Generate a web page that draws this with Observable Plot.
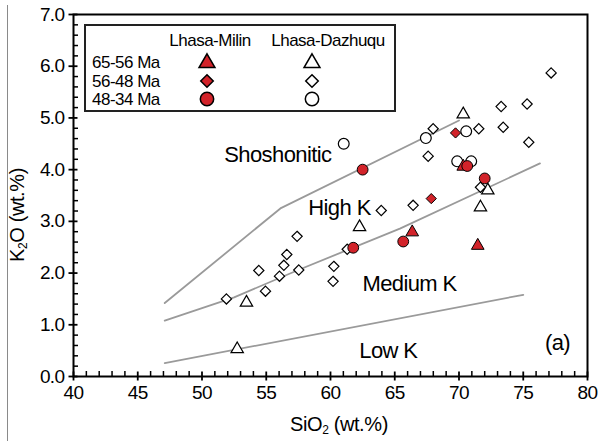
<!DOCTYPE html>
<html><head><meta charset="utf-8">
<script src="https://cdn.jsdelivr.net/npm/d3@7"></script>
<script src="https://cdn.jsdelivr.net/npm/@observablehq/plot@0.6"></script>
<style>
body{margin:0;background:#fff;}
#wrap{position:relative;width:601px;height:441px;font-family:"Liberation Sans",Arial,sans-serif;overflow:hidden;background:#fff;}
#wrap svg.plot text{letter-spacing:-0.6px;}
.side{position:absolute;left:7px;top:5px;width:1px;height:436px;background:#8a8a8a;}
.xt{position:absolute;left:239px;width:200px;top:412px;line-height:24px;text-align:center;font-size:20px;letter-spacing:-0.4px;}
.yt{position:absolute;left:-83px;top:203px;width:200px;line-height:24px;text-align:center;font-size:20px;letter-spacing:-0.4px;transform:rotate(-90deg);}
sub{font-size:12px;vertical-align:-3px;line-height:0;}
#legend{position:absolute;left:0;top:0;pointer-events:none;}
</style></head>
<body><div id="wrap"><div class="side"></div></div>
<script>
// ---- axis ticks ----
const xMajor = [40, 45, 50, 55, 60, 65, 70, 75, 80];
const yMajor = [0, 1, 2, 3, 4, 5, 6, 7];
const xMinor = d3.range(40, 80.01, 1).filter(v => v % 5 !== 0);
const yMinor = d3.range(0, 7.001, 0.2).map(v => +v.toFixed(1)).filter(v => Math.abs(v - Math.round(v)) > 0.01);

// ---- boundary lines (SiO2, K2O) ----
const shoX = [47.1, 56.1, 70.0];
const shoY = [1.42, 3.25, 4.95];
const hkX = [47.1, 52.5, 57.4, 65.4, 76.3];
const hkY = [1.08, 1.53, 2.05, 2.86, 4.12];
const lkX = [47.1, 75.0];
const lkY = [0.26, 1.58];

// ---- field labels ----
const fieldNames = ["Shoshonitic", "High K", "Medium K", "Low K", "(a)"];
const fieldX = [55.9, 60.7, 66.15, 64.5, 77.67];
const fieldY = [4.29, 3.25, 1.78, 0.50, 0.64];

// ---- Lhasa-Milin (filled red) ----
const milin65X = [66.36, 71.46, 70.33];
const milin65Y = [2.79, 2.53, 4.06];
const milin56X = [69.73, 67.84];
const milin56Y = [4.71, 3.44];
const milin48X = [62.5, 61.77, 65.66, 70.64, 72.0];
const milin48Y = [4.00, 2.49, 2.61, 4.07, 3.83];

// ---- Lhasa-Dazhuqu (open) ----
const dazhu65X = [52.74, 53.46, 62.26, 70.33, 72.24, 71.67];
const dazhu65Y = [0.53, 1.43, 2.89, 5.07, 3.60, 3.27];
const dazhu56X = [51.9, 54.42, 54.94, 56.03, 56.37, 56.6, 57.4, 57.53, 60.2, 60.26, 61.3, 63.95, 66.43, 67.6, 67.99, 71.54, 71.67, 73.28, 73.44, 75.3, 75.43, 77.17];
const dazhu56Y = [1.50, 2.05, 1.65, 1.94, 2.15, 2.36, 2.71, 2.06, 1.84, 2.13, 2.46, 3.21, 3.31, 4.26, 4.79, 4.79, 3.66, 5.22, 4.82, 5.27, 4.53, 5.87];
const dazhu48X = [61.03, 67.42, 70.56, 69.86, 70.95];
const dazhu48Y = [4.50, 4.61, 4.74, 4.16, 4.16];

// ---- legend ----
const legendCols = ["Lhasa-Milin", "Lhasa-Dazhuqu"];
const legendRows = ["65-56 Ma", "56-48 Ma", "48-34 Ma"];

const RED = "#d2232a";
const pts = (xs, ys) => xs.map((x, i) => ({x, y: ys[i]}));

const svg = Plot.plot({
  width: 601, height: 441,
  marginLeft: 73, marginRight: 14, marginTop: 14, marginBottom: 65,
  x: {domain: [40, 80]},
  y: {domain: [0, 7]},
  style: {fontFamily: "Liberation Sans, Arial, sans-serif", background: "white", color: "black"},
  marks: [
    Plot.line(pts(shoX, shoY), {x: "x", y: "y", stroke: "#9a9a9a", strokeWidth: 1.8}),
    Plot.line(pts(hkX, hkY), {x: "x", y: "y", stroke: "#9a9a9a", strokeWidth: 1.8}),
    Plot.line(pts(lkX, lkY), {x: "x", y: "y", stroke: "#9a9a9a", strokeWidth: 1.8}),
    Plot.text(fieldNames, {x: (d, i) => fieldX[i], y: (d, i) => fieldY[i], text: d => d, fontSize: 22, fill: "black"}),
    Plot.dot(pts(dazhu65X, dazhu65Y), {x: "x", y: "y", symbol: "triangle", r: 4.6, fill: "white", stroke: "black", strokeWidth: 1.2}),
    Plot.dot(pts(dazhu56X, dazhu56Y), {x: "x", y: "y", symbol: "diamond2", r: 4.6, fill: "white", stroke: "black", strokeWidth: 1.2}),
    Plot.dot(pts(dazhu48X, dazhu48Y), {x: "x", y: "y", symbol: "circle", r: 5.4, fill: "white", stroke: "black", strokeWidth: 1.2}),
    Plot.dot(pts(milin65X, milin65Y), {x: "x", y: "y", symbol: "triangle", r: 4.7, fill: RED, stroke: "black", strokeWidth: 1}),
    Plot.dot(pts(milin56X, milin56Y), {x: "x", y: "y", symbol: "diamond2", r: 4.6, fill: RED, stroke: "black", strokeWidth: 1}),
    Plot.dot(pts(milin48X, milin48Y), {x: "x", y: "y", symbol: "circle", r: 5.4, fill: RED, stroke: "black", strokeWidth: 1}),
    Plot.frame({stroke: "black", strokeWidth: 2}),
    Plot.axisX({ticks: xMinor, tickSize: 5, dy: -5, tickFormat: () => "", label: null, strokeWidth: 1.5}),
    Plot.axisX({ticks: xMajor, tickSize: 9, dy: -4.5, tickFormat: () => "", label: null, strokeWidth: 1.8}),
    Plot.axisX({ticks: xMajor, tickSize: 0, tickPadding: 9, tickFormat: d => String(d), label: null, fontSize: 19}),
    Plot.axisY({ticks: yMinor, tickSize: 5, dx: 5, tickFormat: () => "", label: null, strokeWidth: 1.5}),
    Plot.axisY({ticks: yMajor, tickSize: 9, dx: 4.5, tickFormat: () => "", label: null, strokeWidth: 1.8}),
    Plot.axisY({ticks: yMajor, tickSize: 0, tickPadding: 9, tickFormat: d => d.toFixed(1), label: null, fontSize: 19})
  ]
});
svg.classList.add("plot");
const wrap = document.getElementById("wrap");
wrap.appendChild(svg);

const xt = document.createElement("div");
xt.className = "xt"; xt.innerHTML = "SiO<sub>2</sub> (wt.%)";
wrap.appendChild(xt);
const yt = document.createElement("div");
yt.className = "yt"; yt.innerHTML = "K<sub>2</sub>O (wt.%)";
wrap.appendChild(yt);

// legend overlay
const lg = d3.select(wrap).append("svg").attr("id", "legend").attr("width", 601).attr("height", 441)
  .style("font-family", "Liberation Sans, Arial, sans-serif");
lg.append("rect").attr("x", 85).attr("y", 25).attr("width", 310).attr("height", 86)
  .attr("fill", "white").attr("stroke", "#222").attr("stroke-width", 2);
const colX = [210, 328];
const symX = [207, 312];
const rowY = [62, 81, 99];
legendCols.forEach((c, i) => lg.append("text").attr("x", colX[i]).attr("y", 46).attr("text-anchor", "middle")
  .attr("font-size", 17).attr("letter-spacing", "-0.5px").text(c));
legendRows.forEach((r, j) => lg.append("text").attr("x", 92).attr("y", rowY[j] + 6).attr("font-size", 17)
  .attr("letter-spacing", "-0.5px").text(r));
const syms = [d3.symbolTriangle, d3.symbolDiamond2, d3.symbolCircle];
const sizes = [110, 100, 140];
legendRows.forEach((r, j) => {
  [0, 1].forEach(i => {
    lg.append("path").attr("d", d3.symbol(syms[j], sizes[j])())
      .attr("transform", `translate(${symX[i]},${rowY[j] + (j === 0 ? 1 : 0)})`)
      .attr("fill", i === 0 ? RED : "white").attr("stroke", "black").attr("stroke-width", 1.5);
  });
});
</script>
</body></html>
